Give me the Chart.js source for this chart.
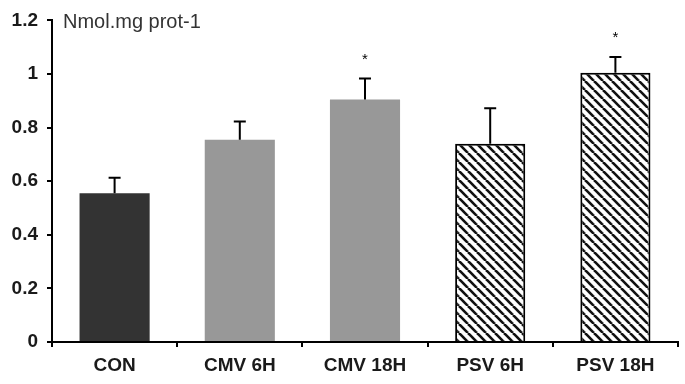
<!DOCTYPE html>
<html>
<head>
<meta charset="utf-8">
<script src="https://cdn.jsdelivr.net/npm/chart.js@4.4.1/dist/chart.umd.min.js"></script>
<style>
  html, body { margin: 0; padding: 0; background: #fff; }
  #wrap { width: 685px; height: 384px; }
</style>
</head>
<body>
<div id="wrap"><canvas id="barChart" width="685" height="384"></canvas></div>
<script>
const categories = ['CON', 'CMV 6H', 'CMV 18H', 'PSV 6H', 'PSV 18H'];
const means = [0.555, 0.755, 0.905, 0.74, 1.005];
const errors = [0.058, 0.068, 0.078, 0.132, 0.058];
const stars = ['', '', '*', '', '*'];
const yTicks = [0, 0.2, 0.4, 0.6, 0.8, 1, 1.2];

function hatch() {
    const size = 9;
    const c = document.createElement('canvas');
    c.width = size; c.height = size;
    const g = c.getContext('2d');
    g.fillStyle = '#fff';
    g.fillRect(0, 0, size, size);
    g.strokeStyle = '#111';
    g.lineWidth = 2.6;
    for (let k = -1; k <= 1; k++) {
        g.beginPath();
        g.moveTo(k * size, 0);
        g.lineTo(k * size + size, size);
        g.stroke();
    }
    return g.createPattern(c, 'repeat');
}

const pat = hatch();
const fills = ['#333333', '#989898', '#989898', pat, pat];
const borders = ['#333333', '#989898', '#989898', '#000', '#000'];
const borderW = [0, 0, 0, 2, 2];

const errorBars = {
    id: 'errorBars',
    afterDatasetsDraw(chart) {
        const ctx = chart.ctx;
        const y = chart.scales.y;
        const meta = chart.getDatasetMeta(0);
        ctx.save();
        ctx.strokeStyle = '#000';
        ctx.lineWidth = 2;
        meta.data.forEach((bar, i) => {
            const top = y.getPixelForValue(means[i]);
            const hi = y.getPixelForValue(means[i] + errors[i]);
            ctx.beginPath();
            ctx.moveTo(bar.x, top);
            ctx.lineTo(bar.x, hi);
            ctx.moveTo(bar.x - 6, hi);
            ctx.lineTo(bar.x + 6, hi);
            ctx.stroke();
            if (stars[i]) {
                ctx.fillStyle = '#000';
                ctx.font = '15px Arial, "Liberation Sans"';
                ctx.textAlign = 'center';
                ctx.textBaseline = 'middle';
                ctx.fillText(stars[i], bar.x, hi - 19);
            }
        });
        ctx.fillStyle = '#333';
        ctx.font = '20px Arial, "Liberation Sans"';
        ctx.textAlign = 'left';
        ctx.textBaseline = 'middle';
        ctx.fillText('Nmol.mg prot-1', 63, y.getPixelForValue(1.2) + 2);
        ctx.restore();
    }
};

new Chart(document.getElementById('barChart').getContext('2d'), {
    type: 'bar',
    data: {
        labels: categories,
        datasets: [{
            data: means,
            backgroundColor: fills,
            borderColor: borders,
            borderWidth: borderW,
            borderSkipped: 'bottom',
            barPercentage: 0.56,
            categoryPercentage: 1
        }]
    },
    options: {
        responsive: false,
        animation: false,
        layout: { padding: { top: 19, right: 7, left: 0, bottom: 0 } },
        plugins: { legend: { display: false }, tooltip: { enabled: false } },
        scales: {
            x: {
                grid: { display: true, drawOnChartArea: false, offset: true, tickLength: 5, color: '#000', lineWidth: 2 },
                border: { color: '#000', width: 2 },
                ticks: { color: '#1a1a1a', font: { family: 'Arial, "Liberation Sans"', size: 19, weight: 'bold' }, padding: 7 },
                afterFit(s) { s.height = 42; }
            },
            y: {
                min: 0,
                max: 1.2,
                afterBuildTicks(s) { s.ticks = yTicks.map(v => ({ value: v })); },
                grid: { display: true, drawOnChartArea: false, tickLength: 5, color: '#000', lineWidth: 2 },
                border: { color: '#000', width: 2 },
                ticks: {
                    color: '#1a1a1a',
                    font: { family: 'Arial, "Liberation Sans"', size: 19, weight: 'bold' },
                    padding: 9,
                    callback: v => String(v)
                },
                afterFit(s) { s.width = 52; }
            }
        }
    },
    plugins: [errorBars]
});
</script>
</body>
</html>
